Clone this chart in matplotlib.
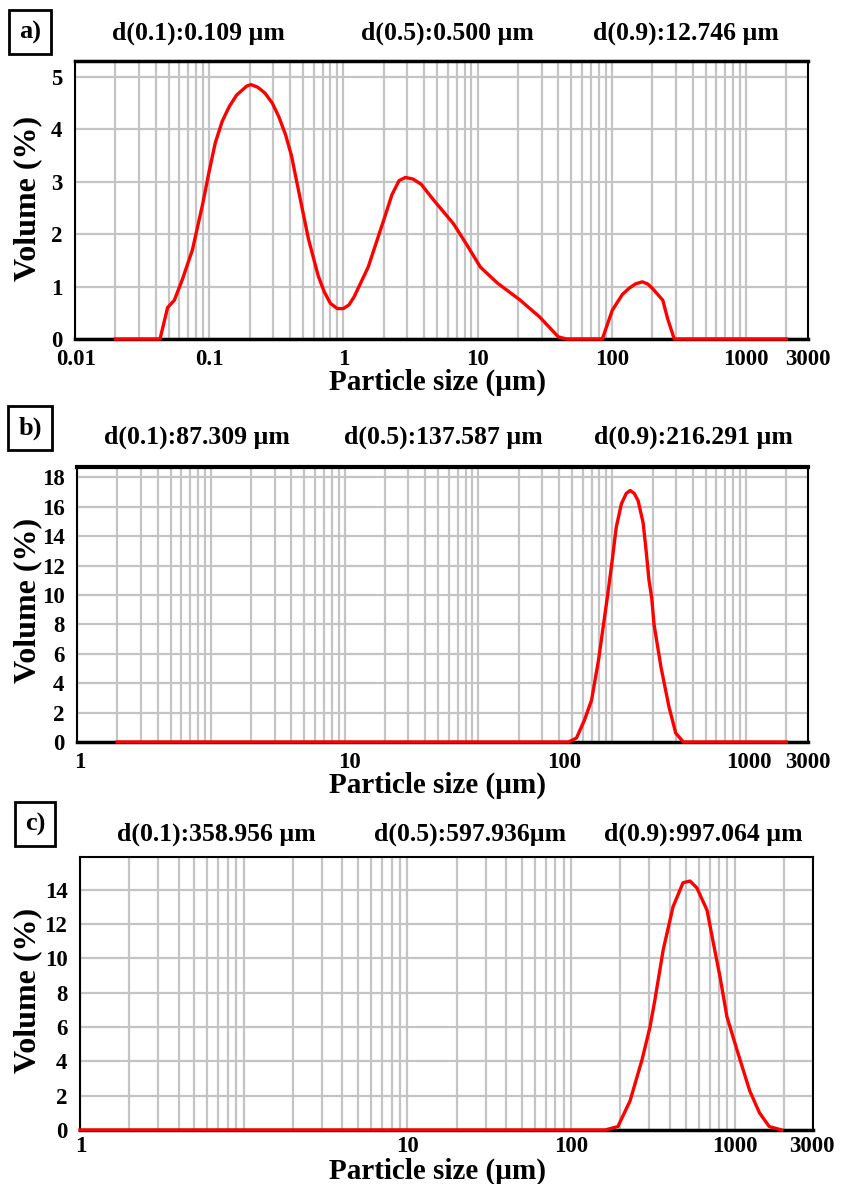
import numpy as np
import matplotlib
matplotlib.use('Agg')
import matplotlib.pyplot as plt
from matplotlib.ticker import LogLocator, FixedLocator, NullFormatter

plt.rcParams['font.family'] = ['Liberation Serif', 'DejaVu Serif']
plt.rcParams['font.weight'] = 'bold'

# ---- data (particle size in um, volume in %) ----
size_a = [0.02, 0.043, 0.049, 0.055, 0.063, 0.075, 0.089, 0.1, 0.111, 0.125, 0.141,
          0.16, 0.19, 0.205, 0.23, 0.26, 0.295, 0.33, 0.37, 0.41, 0.47, 0.55, 0.65,
          0.72, 0.8, 0.9, 1.0, 1.1, 1.2, 1.53, 2.0, 2.3, 2.6, 2.9, 3.3, 3.8, 4.7,
          6.6, 8.3, 10.5, 14, 20.8, 29, 40, 46, 85, 101, 120, 135, 150, 169, 185,
          200, 240, 260, 292, 2000]
vol_a = [0, 0, 0.6, 0.74, 1.13, 1.7, 2.55, 3.2, 3.74, 4.15, 4.43,
         4.65, 4.82, 4.85, 4.8, 4.69, 4.5, 4.24, 3.9, 3.5, 2.75, 1.9, 1.2,
         0.9, 0.68, 0.58, 0.58, 0.65, 0.8, 1.37, 2.27, 2.75, 3.02, 3.08, 3.05, 2.95, 2.65,
         2.2, 1.8, 1.37, 1.07, 0.74, 0.42, 0.04, 0, 0, 0.55, 0.85, 0.97, 1.05, 1.09, 1.05,
         0.97, 0.74, 0.4, 0, 0]

size_b = [0.02, 47, 54, 62, 70, 79, 86, 93, 100, 107, 117, 127, 136, 146, 156, 170,
          179, 188, 197, 205, 231, 265, 298, 340, 2000]
vol_b = [0, 0, 0.27, 1.5, 2.85, 5.6, 8.0, 10.2, 12.4, 14.6, 16.2, 16.9, 17.1, 16.9, 16.4, 14.9,
         13.0, 11.0, 9.8, 8.0, 5.1, 2.4, 0.6, 0, 0]

size_c = [0.1, 161, 193, 229, 271, 303, 325, 365, 419, 482, 532, 586, 676, 735,
          812, 894, 1027, 1230, 1413, 1622, 1930]
vol_c = [0, 0, 0.2, 1.7, 4.1, 6.0, 7.6, 10.5, 13.0, 14.4, 14.5, 14.1, 12.8, 11.0,
         8.9, 6.6, 4.7, 2.3, 1.0, 0.2, 0]

d_a = ['d(0.1):0.109 µm', 'd(0.5):0.500 µm', 'd(0.9):12.746 µm']
d_b = ['d(0.1):87.309 µm', 'd(0.5):137.587 µm', 'd(0.9):216.291 µm']
d_c = ['d(0.1):358.956 µm', 'd(0.5):597.936µm', 'd(0.9):997.064 µm']

# tick labels as printed (positions follow the picture)
xtick_a = [0.0101, 0.1, 1, 10, 100, 1000, 2900]
xlab_a = ['0.01', '0.1', '1', '10', '100', '1000', '3000']
xtick_b = [0.0105, 1.08, 43.5, 1050, 2900]
xlab_b = ['1', '10', '100', '1000', '3000']
xtick_c = [0.101, 10, 100, 1000, 2950]
xlab_c = ['1', '10', '100', '1000', '3000']

yticks_a = [0, 1, 2, 3, 4, 5]
yticks_b = [0, 2, 4, 6, 8, 10, 12, 14, 16, 18]
yticks_c = [0, 2, 4, 6, 8, 10, 12, 14]

W, H = 842, 1184
def fx(x): return x / W
def fy(y): return 1 - y / H

fig = plt.figure(figsize=(W / 100, H / 100), dpi=100)

panels = [
    dict(rect=(75, 61, 808, 339), xlim=(0.01, 2900), ylim=(0, 5.3),
         x=size_a, y=vol_a, d=d_a, dx=[198, 447, 686], dy=33,
         tag='a)', tag_xy=(30, 32), xt=xtick_a, xl=xlab_a, yt=yticks_a,
         xlab_y=382, ylab_y=198, top_lw=2.5, xpad=7),
    dict(rect=(77, 467, 808, 742), xlim=(0.01, 2900), ylim=(0, 18.7),
         x=size_b, y=vol_b, d=d_b, dx=[197, 443, 693], dy=437,
         tag='b)', tag_xy=(30, 428), xt=xtick_b, xl=xlab_b, yt=yticks_b,
         xlab_y=785, ylab_y=600, top_lw=3, xpad=7),
    dict(rect=(80, 857, 813, 1130), xlim=(0.1, 3000), ylim=(0, 15.9),
         x=size_c, y=vol_c, d=d_c, dx=[216, 470, 703], dy=834,
         tag='c)', tag_xy=(35, 824), xt=xtick_c, xl=xlab_c, yt=yticks_c,
         xlab_y=1171, ylab_y=990, top_lw=1.5, xpad=4),
]

for p in panels:
    l, t, r, b = p['rect']
    ax = fig.add_axes([fx(l), fy(b), (r - l) / W, (b - t) / H])
    ax.set_xscale('log')
    ax.set_xlim(p['xlim'])
    ax.set_ylim(p['ylim'])

    # grid: every 1..9 of each decade, independent of the printed labels
    ax.xaxis.set_major_locator(FixedLocator(p['xt']))
    ax.set_xticklabels(p['xl'])
    ax.xaxis.set_minor_locator(LogLocator(base=10, subs=np.arange(1, 10), numticks=100))
    ax.xaxis.set_minor_formatter(NullFormatter())
    ax.xaxis.remove_overlapping_locs = False
    ax.set_yticks(p['yt'])
    ax.xaxis.grid(True, which='minor', color='#c4c4c4', lw=1.6)
    ax.yaxis.grid(True, which='major', color='#c4c4c4', lw=1.6)
    ax.set_axisbelow(True)
    ax.tick_params(which='both', length=0, labelsize=16.5)
    ax.tick_params(axis='x', pad=p['xpad'])
    ax.tick_params(axis='y', pad=9)

    for s in ['left', 'right']:
        ax.spines[s].set_linewidth(1.5)
    ax.spines['bottom'].set_linewidth(2.5)
    ax.spines['top'].set_linewidth(p['top_lw'])

    ax.plot(p['x'], p['y'], color='red', lw=2.4, clip_on=False, zorder=3)

    for txt, xx in zip(p['d'], p['dx']):
        fig.text(fx(xx), fy(p['dy']), txt, ha='center', va='center', fontsize=18.5)

    fig.text(fx(p['tag_xy'][0]), fy(p['tag_xy'][1]), p['tag'], ha='center', va='center',
             fontsize=19,
             bbox=dict(boxstyle='square,pad=0.38', fc='white', ec='black', lw=2))

    fig.text(fx(438), fy(p['xlab_y']), 'Particle size (µm)', ha='center', va='center',
             fontsize=21)
    fig.text(fx(28), fy(p['ylab_y']), 'Volume (%)', ha='center', va='center',
             rotation=90, fontsize=23)

plt.savefig('out.png', dpi=100)
plt.close()
